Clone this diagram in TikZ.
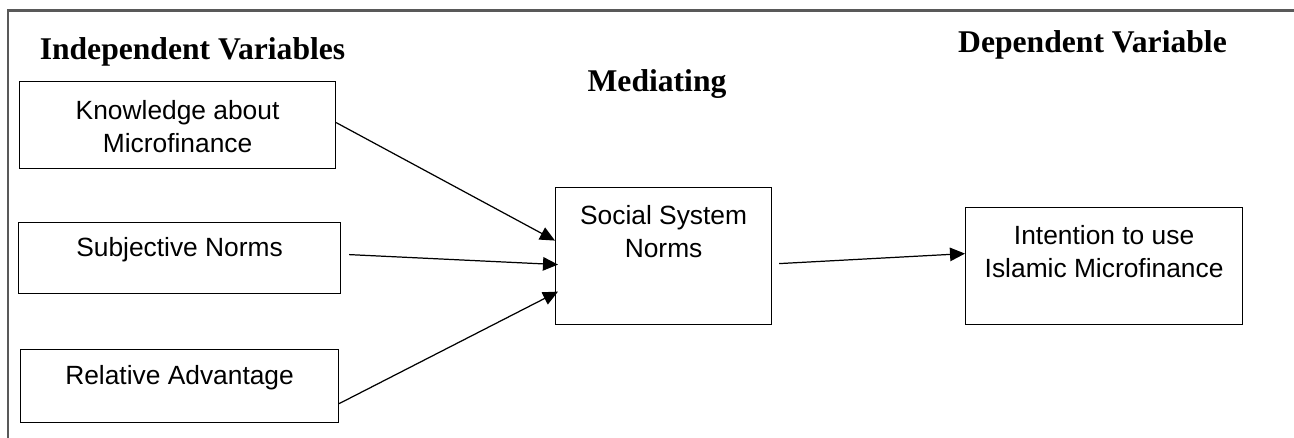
\documentclass[tikz,border=0pt]{standalone}
\usepackage{fontspec}
\setmainfont{Liberation Serif}
\setsansfont{Liberation Sans}
\usepackage{tikz}
\usetikzlibrary{arrows.meta, calc}
\tikzset{
    >={Triangle[length=0.3cm, width=0.27cm]}, % filled arrow heads
    varbox/.style={draw, line width=0.7pt, inner sep=0pt, anchor=north west}, % the boxes
    boxtext/.style={font=\sffamily\fontsize{15}{18.7}\selectfont, align=center, inner sep=0pt, anchor=north}, % text in the boxes
    heading/.style={font=\bfseries\fontsize{18}{22}\selectfont, anchor=base}, % column titles
    link/.style={->, line width=0.7pt}, % the arrows
}

\begin{document}
\begin{tikzpicture}[x=0.02cm, y=-0.02cm]
                            \useasboundingbox (0,0) rectangle (1294,438);
                            \draw[line width=1.2pt, black!65] (8,438) -- (8,10.5) -- (1294,10.5);
                            \node[heading] (indep) at (192.5,60) {Independent Variables};
                            \node[heading] (med) at (657,92) {Mediating};
                            \node[heading] (dep) at (1092.5,53) {Dependent Variable};
                            \node[varbox, minimum width=6.32cm, minimum height=1.74cm] (know) at (19,81) {};
                            \node[varbox, minimum width=6.44cm, minimum height=1.42cm] (subj) at (18,222) {};
                            \node[varbox, minimum width=6.36cm, minimum height=1.46cm] (rel) at (20,349) {};
                            \node[varbox, minimum width=4.32cm, minimum height=2.74cm] (soc) at (555,187) {};
                            \node[varbox, minimum width=5.54cm, minimum height=2.34cm] (dv) at (965,207) {};
                            \node[boxtext] (know-t) at ($(know.north)+(0,19)$) {Knowledge about\\Microfinance};
                            \node[boxtext] (subj-t) at ($(subj.north)+(0,15)$) {Subjective Norms};
                            \node[boxtext] (rel-t) at ($(rel.north)+(0,16)$) {Relative Advantage};
                            \node[boxtext] (soc-t) at ($(soc.north)+(0,18)$) {Social System\\Norms};
                            \node[boxtext] (dv-t) at ($(dv.north)+(0,18)$) {Intention to use\\Islamic Microfinance};
                            \draw ($(know.east)+(0,-2.5)$) edge[link] ($(soc.west)+(0,-15.5)$)
                            ($(subj.east)+(8,-3.5)$) edge[link] ($(soc.west)+(3,8.5)$)
                            ($(rel.east)+(0,17.5)$) edge[link] ($(soc.west)+(3,35.5)$)
                            ($(soc.east)+(7,7.5)$) edge[link] ($(dv.west)+(0,-12.5)$);
                        \end{tikzpicture}
\end{document}
